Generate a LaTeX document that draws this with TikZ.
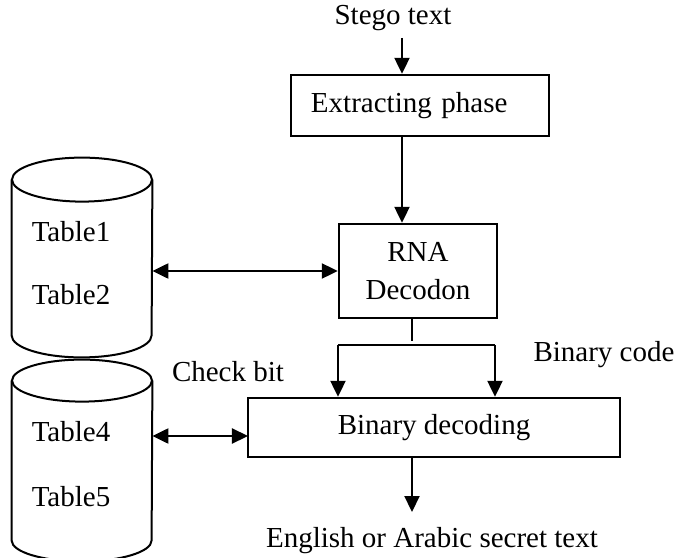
\documentclass[tikz,border=0pt]{standalone}
\usepackage{fontspec}
\setmainfont{Liberation Serif}
\usetikzlibrary{arrows.meta}

\tikzset{
  phase/.style={draw,line width=1.2pt,rectangle,inner sep=0pt},
  tablebody/.style={rectangle,minimum width=70pt,inner sep=0pt},
  cyl/.style={line width=1pt},
  flow/.style={line width=1.1pt,-{Triangle[length=8pt,width=7.5pt]}},
  both/.style={line width=1.1pt,{Triangle[length=8pt,width=7.5pt]}-{Triangle[length=8pt,width=7.5pt]}}
}

\begin{document}
\begin{tikzpicture}[x=0.5pt,y=-0.5pt,font=\fontsize{14.5}{19}\selectfont]
  \useasboundingbox (0,0) rectangle (677,558);

  %tables
  \node[tablebody,minimum height=77.5pt] (tabA) at (82,257.5) {};
  \draw[cyl] (tabA.north west) -- (tabA.south west) arc[start angle=180,end angle=360,x radius=35pt,y radius=11pt] -- (tabA.north east);
  \draw[cyl] (tabA.north) ellipse[x radius=35pt,y radius=11pt];
  \node[tablebody,minimum height=79.5pt] (tabB) at (82,460.5) {};
  \draw[cyl] (tabB.north west) -- (tabB.south west) arc[start angle=180,end angle=360,x radius=35pt,y radius=10.5pt] -- (tabB.north east);
  \draw[cyl] (tabB.north) ellipse[x radius=35pt,y radius=10.5pt];
  \node[at={(71,232)}] (t1) {Table1};
  \node[at={(71,295)}] (t2) {Table2};
  \node[at={(71,432)}] (t4) {Table4};
  \node[at={(71,497)}] (t5) {Table5};

  %phases
  \coordinate (axis) at (402,0);
  \node[at={(393,18)}] (stego) {Stego text};
  \node[phase,minimum width=129pt,minimum height=30.5pt,text width=109pt,inner xsep=10pt,align=left,at={(420,105.5)}] (extract) {Extracting phase};
  \node[phase,minimum width=79pt,minimum height=47pt,align=center,at={(418,271)}] (rna) {RNA\\Decodon};
  \node[phase,minimum width=186pt,minimum height=29.5pt,at={(434,427.5)}] (bindec) {Binary decoding};
  \node[at={(432,541)}] (out) {English or Arabic secret text};
  \node[at={(228,372)}] (check) {Check bit};
  \node[at={(604,355)}] (bincode) {Binary code};

  %arrows
  \draw[flow] (stego.south -| axis) -- (extract.north -| axis);
  \draw[flow] (extract.south -| axis) -- (rna.north -| axis);
  \draw[both] (tabA.east |- rna.west) -- (rna.west);

  \coordinate (split) at (412,345);
  \coordinate (lsplit) at (338,345);
  \coordinate (rsplit) at (495,345);
  \draw[line width=1.1pt] (rna.south -| split) -- ([yshift=2pt]split);
  \draw[line width=1.1pt] (lsplit) -- (rsplit);
  \draw[flow] (lsplit) -- (lsplit |- bindec.north);
  \draw[flow] (rsplit) -- (rsplit |- bindec.north);

  \coordinate (dbl) at (248,436);
  \draw[both] (tabB.east |- dbl) -- (dbl);

  \coordinate (outtip) at (412,512);
  \draw[flow] (bindec.south -| split) -- (outtip);
\end{tikzpicture}
\end{document}
